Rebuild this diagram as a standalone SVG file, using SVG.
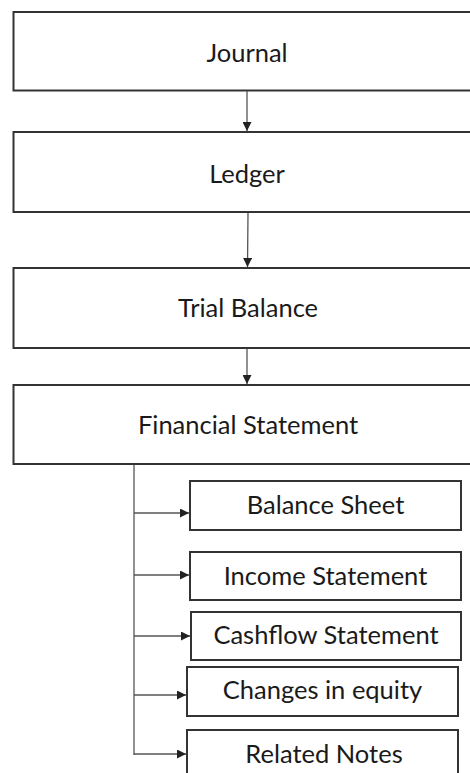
<svg xmlns="http://www.w3.org/2000/svg" width="470" height="773" viewBox="0 0 470 773">
  <style>
    .box { fill: #ffffff; stroke: #333333; stroke-width: 2; }
    .lbl { font-family: Lato, "Open Sans", "Liberation Sans", sans-serif; font-size: 25.5px; fill: #1a1a1a; text-anchor: middle; }
    .link { fill: none; stroke: #555555; stroke-width: 1.3; }
  </style>
  <defs>
    <marker id="arrow" viewBox="0 0 10 10" refX="10" refY="5" markerWidth="9" markerHeight="9" markerUnits="userSpaceOnUse" orient="auto">
      <path d="M0,0 L10,5 L0,10 Z" fill="#222222"/>
    </marker>
  </defs>
  <rect width="470" height="773" fill="#ffffff"/>

  <!-- main sequence -->
  <g id="journal">
    <rect class="box" x="13.5" y="12" width="480" height="78.5"/>
    <text class="lbl" x="247" y="62">Journal</text>
  </g>
  <g id="ledger">
    <rect class="box" x="13.5" y="132" width="480" height="80"/>
    <text class="lbl" x="247" y="183">Ledger</text>
  </g>
  <g id="trial-balance">
    <rect class="box" x="13.5" y="268" width="480" height="80"/>
    <text class="lbl" x="248" y="317">Trial Balance</text>
  </g>
  <g id="financial-statement">
    <rect class="box" x="13.5" y="385" width="480" height="79"/>
    <text class="lbl" x="248" y="434">Financial Statement</text>
  </g>

  <!-- statement components -->
  <g id="balance-sheet">
    <rect class="box" x="190" y="481" width="271" height="49"/>
    <text class="lbl" x="325.5" y="514">Balance Sheet</text>
  </g>
  <g id="income-statement">
    <rect class="box" x="190" y="552" width="271" height="48"/>
    <text class="lbl" x="325.5" y="585">Income Statement</text>
  </g>
  <g id="cashflow-statement">
    <rect class="box" x="191" y="612" width="270" height="48"/>
    <text class="lbl" x="326" y="644">Cashflow Statement</text>
  </g>
  <g id="changes-in-equity">
    <rect class="box" x="187" y="667" width="271" height="49"/>
    <text class="lbl" x="322.5" y="699">Changes in equity</text>
  </g>
  <g id="related-notes">
    <rect class="box" x="187" y="730" width="271" height="60"/>
    <text class="lbl" x="324" y="763">Related Notes</text>
  </g>

  <g id="connectors">
    <line class="link" x1="247" y1="91" x2="247" y2="131" marker-end="url(#arrow)"/>
    <line class="link" x1="248" y1="213" x2="247.5" y2="267" marker-end="url(#arrow)"/>
    <line class="link" x1="247" y1="349" x2="247" y2="384" marker-end="url(#arrow)"/>
    <line class="link" x1="134" y1="465" x2="134" y2="755"/>
    <line class="link" x1="134" y1="513" x2="189" y2="513" marker-end="url(#arrow)"/>
    <line class="link" x1="134" y1="575" x2="189" y2="575" marker-end="url(#arrow)"/>
    <line class="link" x1="134" y1="636" x2="190" y2="636" marker-end="url(#arrow)"/>
    <line class="link" x1="134" y1="695" x2="186" y2="695" marker-end="url(#arrow)"/>
    <line class="link" x1="134" y1="754" x2="186" y2="754" marker-end="url(#arrow)"/>
  </g>
</svg>
